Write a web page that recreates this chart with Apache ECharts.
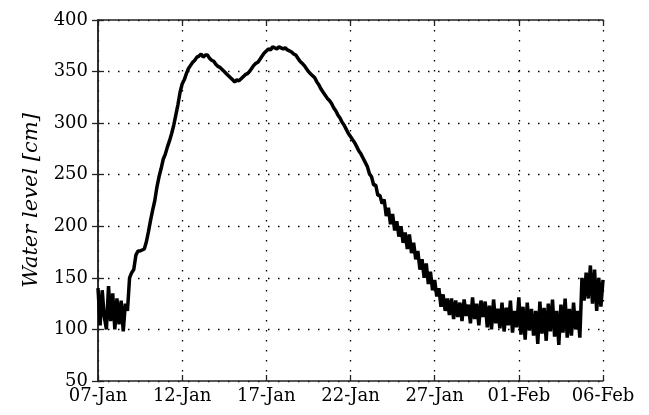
<!DOCTYPE html>
<html>
<head>
<meta charset="utf-8">
<script src="https://cdn.jsdelivr.net/npm/echarts@6/dist/echarts.min.js"></script>
<style>
html,body{margin:0;padding:0;background:#fff;}
#chart{width:649px;height:415px;}
</style>
</head>
<body>
<div id="chart"></div>
<script>
// Water level readings, one every 3 hours starting 07-Jan 00:00
var stepHours = 3;
var levels = [
  140, 104, 138, 112, 100, 142, 108, 135,
  100, 130, 105, 128, 98, 125, 118, 150,
  155, 158, 172, 176, 176, 177, 178, 185,
  195, 206, 216, 225, 238, 248, 256, 265,
  270, 277, 283, 290, 298, 308, 318, 330,
  338, 342, 348, 353, 356, 359, 361, 364,
  365, 367, 364, 366, 366, 363, 361, 360,
  357, 355, 354, 352, 350, 348, 346, 344,
  342, 340, 342, 341, 343, 345, 347, 348,
  350, 353, 356, 358, 359, 362, 365, 368,
  370, 372, 371, 374, 373, 372, 374, 373,
  372, 373, 371, 370, 369, 367, 366, 363,
  360, 358, 356, 353, 350, 348, 346, 344,
  340, 337, 333, 330, 327, 324, 322, 319,
  315, 312, 308, 305, 301, 298, 294, 290,
  287, 284, 281, 277, 273, 270, 266, 262,
  258, 251, 248, 240, 240, 230, 230, 222,
  226, 210, 218, 202, 212, 196, 205, 190,
  200, 184, 194, 178, 192, 174, 184, 168,
  176, 158, 168, 150, 164, 144, 156, 138,
  148, 132, 140, 122, 134, 118, 130, 114,
  130, 110, 128, 112, 126, 108, 129, 113,
  124, 106, 131, 110, 125, 104, 128, 112,
  127, 102, 123, 100, 129, 106, 120, 101,
  126, 98, 121, 104, 128, 97, 118, 102,
  131, 95, 122, 90, 126, 99, 120, 94,
  118, 86, 127, 96, 121, 89, 125, 98,
  129, 93, 118, 85, 124, 97, 130, 92,
  120, 94, 126, 100, 118, 92, 150, 128,
  155, 130, 162, 125, 158, 118, 150, 122,
  148
];
var xTickLabels = ['07-Jan', '12-Jan', '17-Jan', '22-Jan', '27-Jan', '01-Feb', '06-Feb'];
var xTickStepDays = 5;
var yMin = 50, yMax = 400, yStep = 50;
var yTitle = 'Water level [cm]';

var seriesData = levels.map(function (v, i) { return [i * stepHours / 24, v]; });
var totalDays = (xTickLabels.length - 1) * xTickStepDays;

var font = 'DejaVu Serif';
var gridLine = { show: true, lineStyle: { color: '#000', width: 1.3, type: [1.5, 8.5] } };
var frame = { show: true, lineStyle: { color: '#222', width: 1.5 } };
var ticks = { show: true, inside: true, length: 6, lineStyle: { color: '#222', width: 1.3 } };

var chart = echarts.init(document.getElementById('chart'), null, { renderer: 'canvas' });
chart.setOption({
  animation: false,
  backgroundColor: '#fff',
  grid: { left: 98, right: 46, top: 20, bottom: 34 },
  xAxis: [{
    type: 'value', min: 0, max: totalDays, interval: xTickStepDays,
    axisLine: frame, axisTick: ticks, splitLine: gridLine,
    axisLabel: {
      margin: 6, color: '#000', fontFamily: font, fontSize: 18,
      formatter: function (v) { return xTickLabels[Math.round(v / xTickStepDays)] || ''; }
    }
  }, {
    type: 'value', position: 'top', min: 0, max: totalDays, interval: xTickStepDays,
    axisLine: frame, axisTick: ticks, splitLine: { show: false }, axisLabel: { show: false }
  }],
  yAxis: [{
    type: 'value', min: yMin, max: yMax, interval: yStep,
    axisLine: frame, axisTick: ticks, splitLine: gridLine,
    axisLabel: { margin: 10, color: '#000', fontFamily: font, fontSize: 18 },
    name: yTitle, nameLocation: 'middle', nameGap: 56,
    nameTextStyle: { color: '#000', fontFamily: font, fontSize: 21, fontStyle: 'italic' }
  }, {
    type: 'value', position: 'right', min: yMin, max: yMax, interval: yStep,
    axisLine: frame, axisTick: ticks, splitLine: { show: false }, axisLabel: { show: false }
  }],
  series: [{
    type: 'line', data: seriesData, xAxisIndex: 0, yAxisIndex: 0,
    showSymbol: false, symbol: 'none',
    lineStyle: { color: '#000', width: 3.5 }
  }]
});
</script>
</body>
</html>
